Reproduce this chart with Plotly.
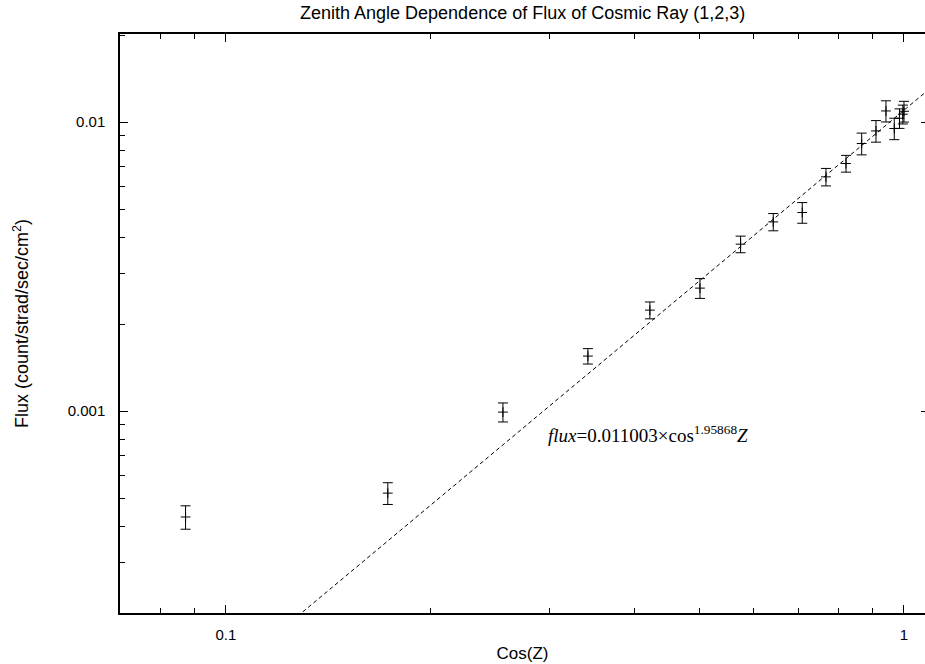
import numpy as np
import plotly.graph_objects as go

# Cosine of zenith angle for each measurement
cos_z = [0.0872, 0.1733, 0.2562, 0.3419, 0.4220, 0.5002, 0.5742, 0.6415, 0.7079,
         0.7673, 0.8213, 0.8662, 0.9093, 0.9407, 0.9676, 0.9848, 0.9962, 1.0]
# Measured flux (count/strad/sec/cm^2) and its uncertainty
flux = [0.000430, 0.000520, 0.000992, 0.001550, 0.002236, 0.002665, 0.003783, 0.004518, 0.004869,
        0.006468, 0.007196, 0.008438, 0.009330, 0.010940, 0.009511, 0.010320, 0.010660, 0.010910]
flux_err = [0.000040, 0.000045, 0.000075, 0.000095, 0.000150, 0.000210, 0.000250, 0.000310, 0.000400,
            0.000450, 0.000480, 0.000730, 0.000800, 0.000920, 0.000810, 0.000800, 0.000800, 0.000900]

# Power-law fit: flux = A * cos^n Z
fit_a = 0.011003
fit_n = 1.95868

x_range = [0.0698, 1.074]
y_range = [0.0002, 0.0202]

x_major = [0.1, 1]
x_major_text = ["0.1", "1"]
x_minor = [0.08, 0.09, 0.2, 0.3, 0.4, 0.5, 0.6, 0.7, 0.8, 0.9]
y_major = [0.001, 0.01]
y_major_text = ["0.001", "0.01"]
y_minor = [0.0002, 0.0003, 0.0004, 0.0005, 0.0006, 0.0007, 0.0008, 0.0009,
           0.002, 0.003, 0.004, 0.005, 0.006, 0.007, 0.008, 0.009, 0.02]

SANS = "Liberation Sans, Arial, sans-serif"
SERIF = "Liberation Serif, Times New Roman, serif"

fit_x = np.logspace(np.log10(x_range[0]), np.log10(x_range[1]), 200)
fit_y = fit_a * fit_x ** fit_n

fig = go.Figure()
fig.add_trace(go.Scatter(
    x=fit_x, y=fit_y, mode="lines",
    line=dict(color="black", width=1, dash="4px,3px"),
    hoverinfo="skip", showlegend=False,
))
fig.add_trace(go.Scatter(
    x=cos_z, y=flux, mode="markers",
    marker=dict(symbol="cross-thin", size=7, color="black",
                line=dict(color="black", width=1)),
    error_y=dict(type="data", array=flux_err, visible=True,
                 color="black", thickness=1, width=5),
    showlegend=False,
))
# Invisible companion trace so the right-hand tick axis is drawn
fig.add_trace(go.Scatter(
    x=[x_range[0]], y=[y_range[0]], yaxis="y2", mode="markers",
    marker=dict(opacity=0), hoverinfo="skip", showlegend=False,
))

# Fit equation label (log axes: annotation coordinates are log10 values)
fig.add_annotation(
    x=np.log10(0.297), y=np.log10(0.000835), xref="x", yref="y",
    xanchor="left", yanchor="middle", showarrow=False,
    text="<i>flux</i>=0.011003×cos<sup>1.95868</sup><i>Z</i>",
    font=dict(family=SERIF, size=19, color="black"),
)

axis_common = dict(
    type="log", showgrid=False, zeroline=False,
    showline=True, linecolor="black", linewidth=1.5,
    ticks="inside", ticklen=8, tickwidth=1, tickcolor="black",
    tickfont=dict(family=SANS, size=15, color="black"),
)

fig.update_xaxes(
    **axis_common, mirror="ticks",
    range=[np.log10(v) for v in x_range],
    tickmode="array", tickvals=x_major, ticktext=x_major_text,
    minor=dict(ticks="inside", ticklen=5, tickwidth=1, tickcolor="black",
               tickmode="array", tickvals=x_minor),
    ticklabelstandoff=7,
    title=dict(text="Cos(Z)", standoff=5,
               font=dict(family=SANS, size=17, color="black")),
)
fig.update_yaxes(
    **axis_common,
    range=[np.log10(v) for v in y_range],
    tickmode="array", tickvals=y_major, ticktext=y_major_text,
    minor=dict(ticks="inside", ticklen=5, tickwidth=1, tickcolor="black",
               tickmode="array", tickvals=y_minor),
    ticklabelstandoff=10,
    title=dict(text="Flux (count/strad/sec/cm<sup>2</sup>)", standoff=34,
               font=dict(family=SANS, size=18, color="black")),
)

fig.update_layout(
    width=925, height=664,
    margin=dict(l=120, r=0, t=34, b=51),
    plot_bgcolor="white", paper_bgcolor="white",
    yaxis2=dict(
        type="log", overlaying="y", side="right", anchor="x",
        range=[np.log10(v) for v in y_range],
        showline=False, showgrid=False, zeroline=False,
        ticks="inside", ticklen=4, tickwidth=1, tickcolor="black",
        tickmode="array", tickvals=y_major, showticklabels=False,
    ),
    title=dict(text="Zenith Angle Dependence of Flux of Cosmic Ray (1,2,3)",
               x=0.565, xanchor="center", y=1 - 13 / 664, yanchor="middle",
               font=dict(family=SANS, size=18, color="black")),
)

fig.write_html("out.html")
